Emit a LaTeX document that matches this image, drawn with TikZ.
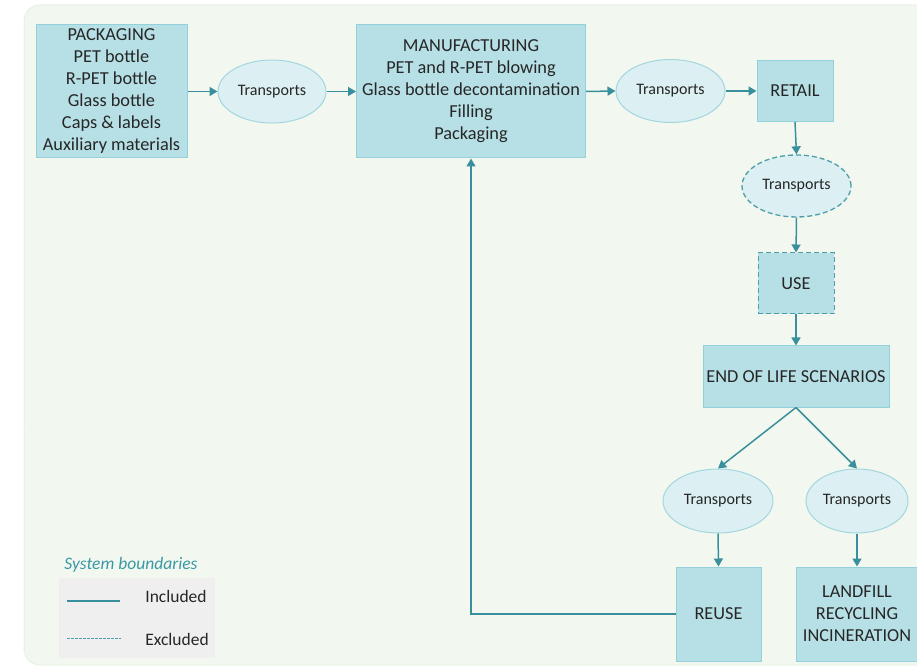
\documentclass[tikz,border=0pt]{standalone}
\usepackage{fontspec}
\setmainfont{Carlito}
\usetikzlibrary{shapes.geometric,arrows.meta}
\definecolor{bgc}{HTML}{F2F8EF}
\definecolor{bgline}{HTML}{DDE9DA}
\definecolor{boxfill}{HTML}{B7E0E6}
\definecolor{boxline}{HTML}{94D0DA}
\definecolor{ellfill}{HTML}{DCEFF3}
\definecolor{ellline}{HTML}{A3D6DF}
\definecolor{arr}{HTML}{3A8F9C}
\definecolor{dashc}{HTML}{4E9EA9}
\definecolor{txt}{HTML}{262626}
\definecolor{legbg}{HTML}{EFEFEF}
\definecolor{legt}{HTML}{3A98A4}
\begin{document}
\begin{tikzpicture}[x=1pt,y=1pt,
  boxn/.style={rectangle,draw=boxline,fill=boxfill,line width=1pt,text=txt,align=center,inner sep=0pt,font=\fontsize{18.3}{22}\selectfont},
  elln/.style={ellipse,draw=ellline,fill=ellfill,line width=1pt,text=txt,inner sep=0pt,font=\fontsize{16}{19}\selectfont},
  excl/.style={draw=dashc,dash pattern=on 5pt off 3pt},
  flow/.style={draw=arr,line width=1.5pt,-{Triangle[width=9pt,length=8pt]}},
  legtext/.style={text=txt,inner sep=0pt,font=\fontsize{17.5}{20}\selectfont}]
\useasboundingbox (0,0) rectangle (917,667);
\clip (0,0) rectangle (917,667);
\fill[white] (0,0) rectangle (917,667);
\filldraw[fill=bgc,draw=bgline,densely dotted,line width=1pt,rounded corners=16pt] (24,2) rectangle (940,662);

\node[boxn,minimum width=151pt,minimum height=133pt] (pack) at (111.5,575.5) {PACKAGING\\PET bottle\\R-PET bottle\\Glass bottle\\Caps \& labels\\Auxiliary materials};
\node[elln,minimum width=108pt,minimum height=63pt] (t1) at (272,575.5) {Transports};
\node[boxn,minimum width=229pt,minimum height=133pt] (man) at (471,575.5) {MANUFACTURING\\PET and R-PET blowing\\Glass bottle decontamination\\Filling\\Packaging};
\node[elln,minimum width=109pt,minimum height=63pt] (t2) at (670.5,576) {Transports};
\node[boxn,minimum width=76pt,minimum height=61pt] (ret) at (795,576) {RETAIL};
\node[elln,excl,line width=1.3pt,minimum width=109pt,minimum height=62pt] (t3) at (796.5,481) {Transports};
\node[boxn,excl,line width=1pt,minimum width=76pt,minimum height=61pt] (use) at (796,383.5) {USE};
\node[boxn,minimum width=186pt,minimum height=61pt] (eol) at (796,290.5) {END OF LIFE SCENARIOS};
\node[elln,minimum width=110pt,minimum height=64pt] (t4) at (718,166) {Transports};
\node[elln,minimum width=102pt,minimum height=64pt] (t5) at (857,166) {Transports};
\node[boxn,minimum width=85pt,minimum height=94pt] (reuse) at (718.5,53) {REUSE};
\node[boxn,minimum width=122pt,minimum height=94pt] (land) at (857,53) {LANDFILL\\RECYCLING\\INCINERATION};

\draw[flow] (pack.east) -- (t1.west);
\draw[flow] (t1.east) -- (man.west);
\draw[flow] (man.east) -- (t2.west);
\draw[flow] (t2.east) -- (ret.west);
\draw[flow] (ret.south) -- (t3.north);
\draw[flow] (t3.south) -- (use.north);
\draw[flow] (use.south) -- (eol.north);
\draw[flow] (eol.south) -- (t4.north);
\draw[flow] (eol.south) -- (t5.north);
\draw[flow] (t4.south) -- (reuse.north);
\draw[flow] (t5.south) -- (land.north);
\draw[flow,line width=1.2pt] (reuse.west) -| (man.south);

% legend
\node[text=legt,inner sep=0pt,font=\fontsize{17.5}{20}\selectfont\itshape] (legtitle) at (131,102) {System boundaries};
\fill[legbg] (59,9) rectangle (215,89);
\coordinate (la) at (67,66);
\coordinate (lb) at (120,66);
\coordinate (lc) at (67,29);
\coordinate (ld) at (121,29);
\draw[arr,line width=1.2pt] (la) -- (lb);
\draw[dashc,line width=1pt,dash pattern=on 2.5pt off 1.5pt] (lc) -- (ld);
\node[legtext] (inc) at (176,71) {Included};
\node[legtext] (exc) at (177,28) {Excluded};
\end{tikzpicture}
\end{document}
